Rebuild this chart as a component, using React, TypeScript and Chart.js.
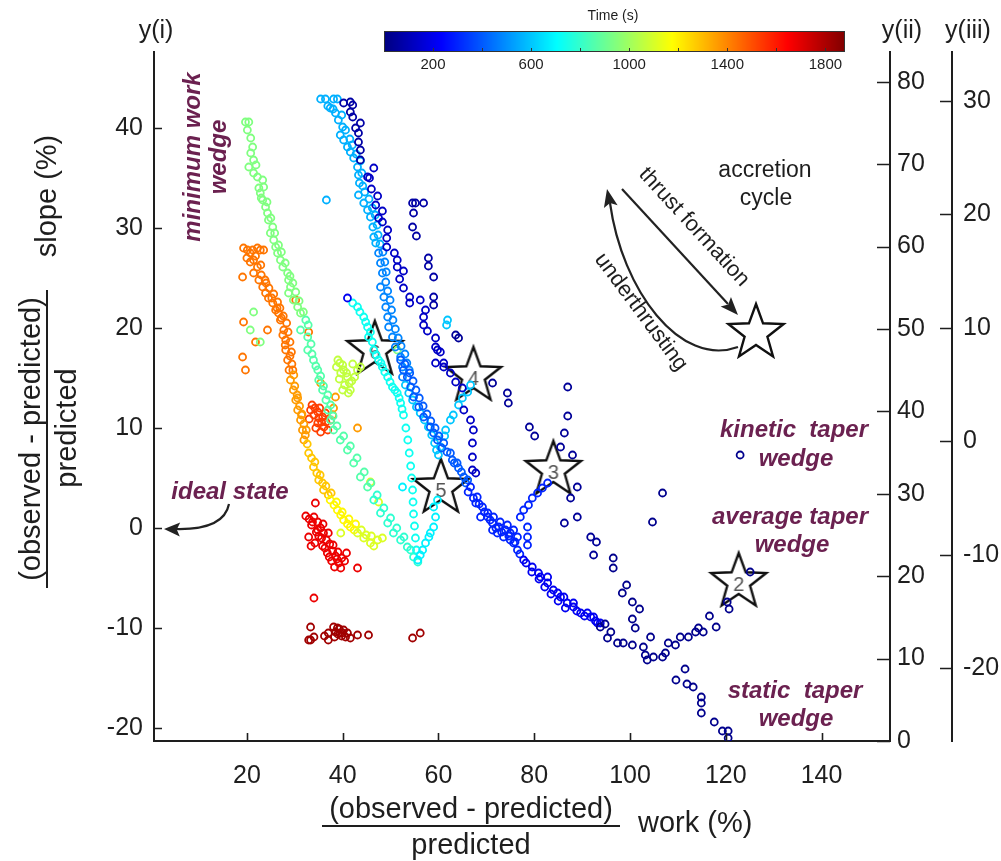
import React, { useEffect, useRef } from "react";
import { Chart, registerables } from "chart.js";
Chart.register(...registerables);

const FONT = "'Liberation Sans', Arial, Helvetica, sans-serif";
const PURPLE = "#6b2150";
const INK = "#1e1e1e";

const T_MIN = 0;
const T_MAX = 1880;

const xTickValues = [20, 40, 60, 80, 100, 120, 140];
const yTickValues = [-20, -10, 0, 10, 20, 30, 40];
const y2TickValues = [0, 10, 20, 30, 40, 50, 60, 70, 80];
const y3TickValues = [-20, -10, 0, 10, 20, 30];
const colorbarTicks = [200, 400, 600, 800, 1000, 1200, 1400, 1600, 1800];
const colorbarLabels = [200, 600, 1000, 1400, 1800];

const starX = [122.7, 84.0, 67.3, 60.5, 46.7];
const starY = [-5.2, 6.0, 15.4, 4.2, 18.0];
const starLabels = ["2", "3", "4", "5", "6"];

// ---- scatter groups: [work %, slope %], each group has one time (s) ----
const navyBottom = [
  [109.6, -15.2], [111.5, -14.1], [111.9, -15.6], [113.2, -15.9], [114.9, -16.9], [114.9, -17.5],
  [114.9, -18.5], [117.6, -19.4], [119.3, -20.3], [120.5, -20.3], [120.5, -21.0],
  [93.8, -9.9], [95.3, -11.0], [97.4, -11.5], [98.6, -11.5], [100.5, -11.7], [102.8, -11.9],
  [103.2, -12.7], [103.6, -13.2], [104.9, -12.9], [106.8, -12.9], [107.4, -12.5], [108.0, -11.5],
  [109.5, -11.7], [110.5, -10.9], [112.2, -10.9], [113.7, -10.4], [114.3, -10.0], [115.3, -10.4],
  [116.6, -8.8], [118.0, -9.9], [120.3, -7.4], [120.7, -8.1], [125.1, -4.4], [104.3, -10.9],
  [104.7, 0.6], [106.8, 3.5], [123.0, 7.3], [96.5, -3.0], [96.5, -4.0], [98.4, -6.5], [99.3, -5.7],
  [100.5, -7.4], [102.0, -8.1], [100.5, -9.1], [101.1, -10.0], [96.0, -10.4], [94.8, -9.6],
];
const navyRight = [
  [87.0, 14.1], [87.0, 11.2], [86.3, 9.5], [85.5, 8.1], [88.0, 7.3], [89.0, 4.1], [87.6, 3.0],
  [89.0, 1.1], [86.3, 0.5], [91.8, -0.9], [93.0, -1.4], [92.4, -2.7], [74.4, 13.5], [74.6, 12.5],
  [71.3, 14.5], [79.0, 10.1], [80.1, 9.2], [63.6, 19.3], [64.2, 19.0],
];
const navyTop = [
  [54.6, 32.5], [55.2, 32.5], [56.9, 32.5], [54.8, 31.5], [54.6, 30.1], [55.4, 29.2], [57.9, 27.0],
  [57.9, 26.2], [59.0, 25.1], [59.0, 23.1], [59.0, 22.3],
  [40.2, 42.5], [41.6, 42.6], [42.1, 42.3], [41.6, 41.6], [42.1, 41.1], [43.7, 40.5], [42.7, 40.0],
  [43.3, 39.5], [43.3, 38.6], [43.7, 37.8], [43.7, 36.8],
];
const blueRight = [
  [46.5, 36.0], [45.2, 35.1], [45.6, 35.0], [46.0, 33.9], [47.3, 33.2], [46.9, 32.3], [48.3, 31.7],
  [47.5, 31.0], [48.3, 30.6], [49.4, 29.8], [49.2, 29.0], [49.2, 28.1], [50.8, 27.5], [51.4, 26.8],
  [51.4, 26.1], [52.7, 25.7], [51.9, 24.9], [52.7, 24.0], [54.0, 23.1], [54.0, 22.5], [56.2, 22.8],
  [57.3, 21.8], [56.9, 21.1], [56.9, 20.3], [57.7, 19.7], [59.4, 19.0], [59.4, 18.1], [60.4, 17.6],
  [59.4, 16.5], [61.1, 16.1], [62.5, 15.5], [59.8, 17.8], [61.1, 16.5], [63.6, 14.6], [65.0, 14.0],
  [65.3, 11.8], [66.7, 10.8], [67.3, 9.8], [67.1, 8.5], [67.1, 7.1], [67.1, 5.8], [67.8, 5.5],
];
const diagLow = [
  [77.8, -3.2], [79.6, -3.9], [80.9, -4.5], [82.8, -5.5], [84.0, -6.2], [85.5, -6.9], [86.9, -7.5],
  [88.2, -7.9], [89.7, -8.5], [91.8, -8.9], [93.8, -9.5], [81.3, -4.9], [82.8, -4.9], [84.9, -6.5],
  [86.2, -6.9], [88.2, -7.5], [91.1, -8.5], [92.4, -8.9], [93.2, -9.5], [41.0, 23.0],
  [78.3, -3.5], [79.5, -4.4], [81.0, -5.1], [82.2, -5.9], [83.5, -6.6], [85.0, -7.3], [86.5, -8.0],
  [88.9, -8.3], [90.5, -8.8], [92.8, -9.3],
];
const diagMid = [
  [66.7, 4.1], [68.1, 3.1], [69.2, 2.1], [70.3, 1.1], [71.3, 0.5], [72.6, 0.1], [74.0, -0.2],
  [75.0, -0.5], [75.7, -1.5], [76.5, -2.2], [70.3, 1.5], [71.5, 1.1], [72.9, 0.6], [74.4, 0.3],
  [75.7, -0.2], [76.5, -0.9], [73.6, -0.9], [75.0, -1.2], [71.3, -0.2], [72.3, -0.5], [68.8, 1.1],
  [67.8, 2.5], [77.1, 1.1], [77.8, 1.8], [78.8, 2.3], [79.6, 3.0], [80.7, 3.5], [81.7, 4.0],
  [82.8, 4.5], [78.6, 0.1], [78.6, -0.9], [78.6, -1.7], [66.2, 3.6], [67.3, 3.0], [68.5, 2.4],
  [69.6, 1.6], [70.8, 0.8], [72.0, 0.0], [73.2, -0.4], [74.7, -0.8], [76.0, -1.4], [77.0, -2.6],
];
const bandBlue = [
  [52.1, 16.8], [52.7, 15.8], [53.5, 15.1], [54.2, 14.1], [54.8, 13.1], [55.9, 12.1], [56.9, 11.1],
  [58.3, 10.1], [59.0, 9.5], [59.8, 8.8], [61.1, 8.5], [62.5, 7.5], [63.9, 6.5], [65.3, 5.1],
  [66.1, 4.8], [63.3, 6.5], [53.0, 16.4], [54.0, 15.5], [54.7, 14.7], [55.3, 13.8], [56.0, 13.0],
  [56.8, 12.2], [57.6, 11.4], [58.4, 10.7], [59.3, 10.0], [60.1, 9.2], [60.7, 8.0], [61.8, 7.6],
  [62.9, 6.8], [64.2, 6.0], [64.8, 5.6], [65.7, 4.5],
];
const skyLower = [
  [47.5, 27.5], [47.9, 26.5], [48.3, 25.5], [47.9, 24.1], [48.6, 23.1], [49.0, 22.1], [49.4, 21.1],
  [49.6, 20.1], [50.4, 19.1], [51.0, 18.1], [52.1, 17.1], [52.5, 16.1], [52.5, 15.1],
  [48.4, 27.6], [48.8, 26.6], [49.1, 25.6], [49.0, 24.6], [49.4, 23.7], [49.9, 22.8], [50.2, 21.8],
  [50.5, 20.8], [51.0, 19.9], [51.6, 19.0], [52.2, 18.2], [53.0, 17.4], [53.4, 16.5], [53.9, 15.8],
];
const skyUpper = [
  [35.4, 42.9], [36.4, 42.9], [38.1, 42.9], [38.9, 42.9], [37.4, 42.0], [38.5, 41.5], [39.1, 40.8],
  [40.0, 40.1], [39.5, 39.3], [40.2, 38.8], [41.0, 38.1], [41.6, 37.6], [42.3, 37.0], [43.1, 36.1],
  [43.3, 35.3], [43.5, 34.5], [43.3, 33.3], [44.4, 32.5], [45.2, 31.8], [45.8, 31.1], [46.3, 30.1],
  [46.5, 29.1], [46.9, 28.5], [36.6, 32.8], [36.9, 42.2], [38.0, 41.9], [39.8, 41.3], [40.6, 39.8],
  [41.5, 38.9], [42.0, 38.3], [42.8, 37.4], [43.7, 36.7], [44.0, 35.5], [44.2, 34.2], [44.6, 33.6],
  [45.5, 32.9], [46.2, 32.0], [46.8, 31.3], [47.2, 30.3], [47.4, 29.3], [47.8, 28.4],
];
const skyBand = [
  [53.1, 14.3], [53.8, 13.5], [54.6, 12.8], [55.4, 12.1], [56.2, 11.5], [57.1, 10.8], [57.9, 10.1],
  [58.6, 9.3], [59.2, 8.5], [59.6, 7.8], [60.0, 7.3], [60.4, 8.1], [61.3, 9.2], [61.5, 9.8],
  [62.5, 10.8], [63.1, 11.3], [64.2, 12.3], [65.0, 13.0], [66.1, 13.6], [66.7, 14.3], [61.7, 20.3],
  [61.9, 20.8],
];
const cyanRise = [
  [55.7, -3.2], [56.2, -2.7], [56.7, -2.2], [57.3, -1.5], [58.0, -0.9], [58.3, -0.5], [59.0, 0.1],
  [59.4, 1.1], [59.0, 2.1], [59.8, 2.8], [52.5, 4.1],
];
const cyanStreak = [
  [42.1, 22.5], [43.1, 22.1], [44.4, 21.1], [45.2, 20.1], [45.4, 19.1], [46.5, 17.8], [47.5, 16.8],
  [48.3, 16.1], [49.4, 15.1], [50.4, 14.1], [51.4, 13.5], [52.1, 12.5], [52.7, 11.3], [53.2, 10.0],
  [53.6, 8.8], [53.9, 7.5], [54.2, 6.2], [54.4, 5.0], [54.6, 3.8], [54.7, 2.6], [54.8, 1.4],
  [55.0, 0.2], [55.2, -1.0], [55.4, -2.2], [43.6, 21.6], [44.8, 20.6], [45.8, 19.6], [46.2, 18.6],
  [47.0, 17.3], [48.0, 16.5], [48.8, 15.6], [49.9, 14.6], [50.9, 13.8], [51.8, 13.0], [52.4, 11.9],
];
const greenLow = [
  [46.5, 2.8], [47.9, 1.5], [49.4, 0.5], [50.6, -0.5], [52.1, -1.2], [53.5, -1.9], [54.8, -2.9],
  [55.7, -3.4], [47.2, 3.3], [48.6, 2.0], [50.0, 1.0], [51.3, 0.0], [52.8, -0.9], [54.2, -2.2],
];
const greenMid = [
  [32.3, 20.8], [31.2, 19.8], [32.7, 19.1], [32.7, 17.8], [33.9, 16.8], [34.8, 15.8], [35.0, 14.8],
  [35.8, 13.8], [36.5, 12.8], [36.9, 11.8], [37.5, 10.8], [38.1, 9.8], [39.5, 8.8], [41.0, 7.8],
  [42.3, 6.5], [43.7, 5.1], [45.2, 4.1], [32.8, 20.3], [33.4, 18.4], [33.6, 17.4], [34.4, 16.2],
  [35.4, 15.2], [36.0, 14.2], [36.9, 13.3], [37.5, 12.3], [38.0, 11.2], [38.8, 10.2], [40.2, 9.2],
  [41.6, 8.2], [43.0, 7.0], [44.5, 5.6], [45.9, 4.5],
];
const greenTop = [
  [19.7, 40.6], [20.4, 40.6], [20.1, 39.8], [20.8, 39.0], [21.2, 38.1], [20.8, 37.5], [21.4, 36.8],
  [20.4, 36.1], [21.4, 35.5], [22.2, 35.1], [23.3, 34.8], [23.5, 34.1], [22.8, 33.5], [23.3, 32.8],
  [23.9, 32.1], [24.3, 31.5], [24.5, 30.8], [25.4, 30.1], [24.9, 29.5], [25.6, 28.8], [26.0, 28.1],
  [26.4, 27.5], [27.0, 26.8], [27.5, 26.1], [28.5, 25.5], [28.7, 24.8], [29.1, 24.1], [28.7, 23.5],
  [29.7, 22.8], [30.6, 22.1], [31.2, 21.5], [20.7, 19.8], [22.8, 18.6], [21.4, 21.6], [51.4, 17.8],
  [21.9, 36.3], [22.5, 34.0], [23.0, 33.0], [24.2, 32.6], [25.0, 31.0], [25.8, 29.5], [26.6, 28.3],
  [27.2, 27.6], [28.0, 26.5], [29.0, 25.2], [29.6, 24.5], [30.2, 23.6], [30.9, 22.7], [31.8, 21.6],
];
const yellowGreenBlob = [
  [38.7, 16.1], [39.4, 16.5], [40.2, 15.8], [41.0, 15.1], [41.4, 14.5], [41.6, 13.8], [42.5, 15.1],
  [43.1, 15.8], [43.7, 16.1], [39.6, 15.5], [40.4, 14.3], [41.2, 13.5], [39.0, 16.8], [40.0, 16.3],
  [39.3, 14.9], [40.8, 15.5], [41.9, 14.7], [42.1, 16.4], [40.0, 13.8],
];
const yellowGreenTail = [
  [43.1, -0.5], [44.4, -1.0], [45.8, -1.5], [47.3, -1.2], [48.3, -1.0], [46.5, -1.8], [39.6, -0.5],
  [45.8, 4.6], [47.5, 2.6], [43.9, -0.2], [44.9, -0.7], [46.0, -0.8],
];
const yellowPart = [
  [37.4, 2.8], [38.9, 1.8], [40.2, 0.8], [41.6, 0.1], [38.2, 2.3], [39.6, 1.3], [41.0, 0.4],
  [42.4, -0.2], [39.9, 1.6], [41.3, 0.9], [42.7, 0.4], [38.7, 2.6],
];
const orangeLow = [
  [32.9, 7.5], [33.9, 6.1], [35.0, 4.8], [36.0, 3.8], [33.5, 7.0], [34.6, 5.5], [35.8, 4.5],
  [37.0, 3.3], [34.2, 6.6], [35.3, 5.3], [36.5, 4.2], [37.6, 3.5], [32.6, 8.4],
];
const orangeMid = [
  [29.1, 14.8], [29.7, 13.8], [30.2, 12.8], [30.6, 11.8], [31.2, 10.8], [31.6, 9.8], [31.9, 8.8],
  [29.8, 15.3], [30.5, 13.3], [31.4, 11.3], [32.2, 9.3], [35.4, 14.5], [38.5, 13.1], [38.1, 12.0],
  [37.9, 11.3], [43.1, 10.0], [30.0, 14.2], [30.6, 13.0], [31.0, 12.2], [31.5, 11.4], [31.9, 10.4],
  [32.4, 9.8],
];
const orangeTop = [
  [19.3, 28.0], [20.1, 27.8], [21.2, 27.8], [22.2, 28.0], [22.8, 27.8], [23.5, 27.8], [20.7, 27.5],
  [21.4, 26.8], [22.2, 26.1], [20.7, 26.6], [21.4, 25.5], [22.5, 24.8], [23.3, 24.1], [23.9, 23.5],
  [24.5, 23.0], [25.4, 22.5], [26.0, 21.8], [26.6, 21.5], [27.0, 20.8], [27.7, 19.8], [28.1, 18.8],
  [28.1, 17.8], [28.5, 16.8], [28.8, 15.8], [24.0, 24.5], [25.2, 23.0], [26.3, 22.0], [27.2, 21.0],
  [27.5, 19.3], [28.0, 18.3], [29.0, 17.2], [19.1, 25.1], [19.3, 20.6], [19.1, 17.1], [19.7, 15.8],
  [24.3, 19.8], [21.8, 18.6], [32.9, 19.6], [30.2, 22.8], [20.0, 27.0], [21.8, 27.2], [22.9, 26.3],
  [23.0, 25.3], [23.8, 24.8], [24.6, 24.0], [25.6, 23.4], [26.4, 22.6], [26.9, 22.0], [27.6, 21.2],
  [28.3, 20.5], [28.6, 19.6], [29.0, 18.6], [29.3, 17.6], [29.4, 16.4], [29.6, 15.8],
];
const redOrange = [
  [33.3, 11.8], [34.8, 11.6], [35.8, 11.1], [34.8, 10.5], [36.1, 10.1], [37.5, 10.8], [36.9, 9.8],
  [34.0, 11.3], [33.6, 12.3], [35.2, 12.0], [36.4, 11.5], [35.4, 9.6], [33.0, 10.9], [34.2, 12.0],
  [35.6, 10.6], [36.5, 10.6], [34.4, 10.0], [35.0, 11.0],
];
const redCluster = [
  [32.3, 1.2], [33.0, 0.9], [34.0, 1.1], [34.8, 0.6], [33.5, 0.3], [35.4, 0.0], [36.0, -0.5],
  [35.0, -0.8], [36.6, -1.2], [37.3, -1.6], [36.3, -2.0], [37.9, -2.3], [38.5, -2.8], [37.7, -3.3],
  [39.2, -3.5], [38.3, -3.9], [39.6, -4.0], [40.4, -3.3], [40.8, -2.5], [32.9, -0.9], [33.4, -1.8],
  [34.2, -1.5], [43.1, -4.0], [34.8, -0.2], [34.3, 2.5], [34.0, -7.0], [33.7, 0.6], [34.5, -0.4],
  [35.6, -1.0], [35.8, -1.8], [36.8, -2.5], [37.2, -2.9], [38.8, -3.1], [39.0, -2.4], [37.0, -0.5],
  [35.9, 0.4], [38.0, -1.7], [39.8, -3.0],
];
const darkRed = [
  [33.3, -9.9], [33.3, -11.2], [37.0, -10.5], [37.0, -11.2], [38.1, -9.9], [38.9, -10.0],
  [39.5, -10.5], [40.6, -10.9], [41.6, -11.0], [43.1, -10.7], [45.4, -10.7], [34.0, -10.9],
  [54.6, -11.0], [56.2, -10.5], [39.0, -10.6], [39.8, -10.8], [40.2, -10.2], [38.5, -10.4],
  [32.9, -11.2], [39.3, -10.1], [40.0, -10.5], [38.3, -10.9], [41.0, -10.5], [36.2, -10.8],
];

const groupTimes = [25, 45, 70, 130, 210, 300, 400, 480, 560, 600, 680, 730, 790, 860, 940, 1060, 1110, 1190, 1280, 1360, 1430, 1530, 1680, 1820];
const groupPoints = [
  navyBottom, navyRight, navyTop, blueRight, diagLow, diagMid, bandBlue, skyLower, skyUpper,
  skyBand, cyanRise, cyanStreak, greenLow, greenMid, greenTop, yellowGreenBlob, yellowGreenTail,
  yellowPart, orangeLow, orangeMid, orangeTop, redOrange, redCluster, darkRed,
];

function jet(t: number) {
  const v = Math.min(1, Math.max(0, (t - T_MIN) / (T_MAX - T_MIN)));
  const c = (a: number) => Math.round(255 * Math.min(1, Math.max(0, a)));
  return `rgb(${c(1.5 - Math.abs(4 * v - 3))},${c(1.5 - Math.abs(4 * v - 2))},${c(1.5 - Math.abs(4 * v - 1))})`;
}

function starPath(ctx: CanvasRenderingContext2D, cx: number, cy: number, R: number, r: number) {
  ctx.beginPath();
  for (let i = 0; i < 10; i++) {
    const rad = i % 2 === 0 ? R : r;
    const a = -Math.PI / 2 + (i * Math.PI) / 5;
    const px = cx + rad * Math.cos(a);
    const py = cy + rad * Math.sin(a);
    if (i === 0) ctx.moveTo(px, py);
    else ctx.lineTo(px, py);
  }
  ctx.closePath();
}

function makeStar(label: string) {
  const cv = document.createElement("canvas");
  cv.width = 66;
  cv.height = 66;
  const c = cv.getContext("2d")!;
  starPath(c, 33, 35, 29, 12);
  c.fillStyle = "#ffffff";
  c.fill();
  c.lineWidth = 2.4;
  c.strokeStyle = "#111";
  c.lineJoin = "miter";
  c.stroke();
  c.fillStyle = "#555";
  c.font = `20px ${FONT}`;
  c.textAlign = "center";
  c.textBaseline = "middle";
  c.fillText(label, 33, 38);
  return cv;
}

function arrowHead(ctx: CanvasRenderingContext2D, x: number, y: number, angle: number, len: number, half: number) {
  ctx.save();
  ctx.translate(x, y);
  ctx.rotate(angle);
  ctx.beginPath();
  ctx.moveTo(0, 0);
  ctx.lineTo(-len, -half);
  ctx.lineTo(-len * 0.8, 0);
  ctx.lineTo(-len, half);
  ctx.closePath();
  ctx.fill();
  ctx.restore();
}

function rotText(ctx: CanvasRenderingContext2D, text: string, x: number, y: number, angle: number) {
  ctx.save();
  ctx.translate(x, y);
  ctx.rotate(angle);
  ctx.fillText(text, 0, 0);
  ctx.restore();
}

const decorPlugin = {
  id: "decor",
  afterDraw(chart: any) {
    const ctx: CanvasRenderingContext2D = chart.ctx;
    const { x, y, y2, y3 } = chart.scales;
    ctx.save();

    // inward tick marks
    ctx.strokeStyle = INK;
    ctx.lineWidth = 1.6;
    ctx.beginPath();
    xTickValues.forEach((v) => {
      const px = Math.round(x.getPixelForValue(v)) + 0.5;
      ctx.moveTo(px, x.top);
      ctx.lineTo(px, x.top - 8);
    });
    yTickValues.forEach((v) => {
      const py = Math.round(y.getPixelForValue(v)) + 0.5;
      ctx.moveTo(y.right, py);
      ctx.lineTo(y.right + 8, py);
    });
    y2TickValues.forEach((v) => {
      const py = Math.round(y2.getPixelForValue(v)) + 0.5;
      ctx.moveTo(y2.left, py);
      ctx.lineTo(y2.left - 13, py);
    });
    y3TickValues.forEach((v) => {
      const py = Math.round(y3.getPixelForValue(v)) + 0.5;
      ctx.moveTo(y3.left, py);
      ctx.lineTo(y3.left - 12, py);
    });
    ctx.stroke();

    // axis headers
    ctx.fillStyle = INK;
    ctx.font = `25px ${FONT}`;
    ctx.textAlign = "center";
    ctx.textBaseline = "middle";
    ctx.fillText("y(i)", y.right + 2, 31);
    ctx.fillText("y(ii)", y2.left + 12, 31);
    ctx.fillText("y(iii)", y3.left + 16, 31);

    // x axis title
    ctx.font = `29px ${FONT}`;
    ctx.textBaseline = "alphabetic";
    ctx.fillText("(observed - predicted)", 471, 818);
    ctx.fillText("predicted", 471, 854);
    ctx.fillRect(322, 825, 298, 2);
    ctx.textAlign = "left";
    ctx.fillText("work (%)", 638, 832);

    // y axis title (rotated)
    ctx.textAlign = "center";
    ctx.fillStyle = INK;
    rotText(ctx, "(observed - predicted)", 40, 439, -Math.PI / 2);
    rotText(ctx, "predicted", 76, 428, -Math.PI / 2);
    ctx.fillRect(46, 290, 2, 298);
    rotText(ctx, "slope (%)", 56, 196, -Math.PI / 2);

    // colorbar
    const cbL = 384, cbR = 845, cbT = 31, cbB = 52;
    const w = cbR - cbL;
    for (let i = 0; i < w; i++) {
      const t = T_MIN + ((i + 0.5) / w) * (T_MAX - T_MIN);
      ctx.fillStyle = jet(t);
      ctx.fillRect(cbL + i, cbT, 1, cbB - cbT);
    }
    ctx.strokeStyle = "#333";
    ctx.lineWidth = 1;
    ctx.strokeRect(cbL + 0.5, cbT + 0.5, w - 1, cbB - cbT - 1);
    ctx.beginPath();
    colorbarTicks.forEach((t) => {
      const px = Math.round(cbL + ((t - T_MIN) / (T_MAX - T_MIN)) * w) + 0.5;
      ctx.moveTo(px, cbB);
      ctx.lineTo(px, cbB - 4);
    });
    ctx.stroke();
    ctx.fillStyle = INK;
    ctx.font = `15px ${FONT}`;
    ctx.textAlign = "center";
    ctx.textBaseline = "middle";
    colorbarLabels.forEach((t) => {
      const px = cbL + ((t - T_MIN) / (T_MAX - T_MIN)) * w;
      ctx.fillText(String(t), px, 65);
    });
    ctx.font = `14px ${FONT}`;
    ctx.fillText("Time (s)", 613, 16);

    // purple annotations
    ctx.fillStyle = PURPLE;
    ctx.font = `italic bold 24px ${FONT}`;
    ctx.textAlign = "center";
    ctx.textBaseline = "middle";
    rotText(ctx, "minimum work", 193, 157, -Math.PI / 2);
    rotText(ctx, "wedge", 219, 157, -Math.PI / 2);
    ctx.fillText("ideal state", 230, 492);
    ctx.fillText("kinetic  taper", 794, 430);
    ctx.fillText("wedge", 796, 459);
    ctx.fillText("average taper", 790, 517);
    ctx.fillText("wedge", 792, 545);
    ctx.fillText("static  taper", 795, 691);
    ctx.fillText("wedge", 796, 719);

    // ideal state arrow
    ctx.strokeStyle = "#222";
    ctx.fillStyle = "#222";
    ctx.lineWidth = 2.2;
    ctx.beginPath();
    ctx.moveTo(229, 504);
    ctx.quadraticCurveTo(224, 530, 176, 529);
    ctx.stroke();
    arrowHead(ctx, 164, 529, Math.PI + 0.03, 16, 7);

    // accretion cycle diagram
    ctx.fillStyle = INK;
    ctx.font = `23px ${FONT}`;
    ctx.fillText("accretion", 765, 171);
    ctx.fillText("cycle", 766, 199);
    ctx.font = `22px ${FONT}`;
    rotText(ctx, "thrust formation", 694, 227, 0.83);
    rotText(ctx, "underthrusting", 641, 312, 0.93);

    ctx.strokeStyle = "#222";
    ctx.fillStyle = "#222";
    ctx.lineWidth = 2.2;
    ctx.beginPath();
    ctx.moveTo(622, 189);
    ctx.lineTo(728, 304);
    ctx.stroke();
    arrowHead(ctx, 738, 315, Math.atan2(126, 116), 18, 7);

    ctx.beginPath();
    ctx.moveTo(738, 347);
    ctx.bezierCurveTo(680, 368, 622, 290, 610, 203);
    ctx.stroke();
    arrowHead(ctx, 607, 189, Math.atan2(-14, -3), 18, 7);

    starPath(ctx, 756, 333, 29, 12);
    ctx.fillStyle = "#fff";
    ctx.fill();
    ctx.lineWidth = 2.4;
    ctx.strokeStyle = "#111";
    ctx.stroke();

    ctx.restore();
  },
};

export default function App() {
  const ref = useRef<HTMLCanvasElement | null>(null);

  useEffect(() => {
    document.body.style.margin = "0";
    const canvas = ref.current;
    if (!canvas) return;

    const datasets: any[] = groupPoints.map((pts, i) => ({
      data: pts.map((p) => ({ x: p[0], y: p[1] })),
      borderColor: jet(groupTimes[i]),
      backgroundColor: "rgba(0,0,0,0)",
      pointRadius: 3.5,
      pointBorderWidth: 1.8,
      pointStyle: "circle",
      xAxisID: "x",
      yAxisID: "y",
    }));
    datasets.push({
      data: starX.map((v, i) => ({ x: v, y: starY[i] })),
      pointStyle: starLabels.map((l) => makeStar(l)),
      pointRadius: 28,
      xAxisID: "x",
      yAxisID: "y",
    });

    const tickFont = { family: FONT, size: 25 };
    const chart = new Chart(canvas, {
      type: "scatter",
      data: { datasets },
      plugins: [decorPlugin],
      options: {
        responsive: false,
        animation: false,
        layout: { padding: { left: 0, right: 0, top: 52, bottom: 0 } },
        plugins: { legend: { display: false }, tooltip: { enabled: false } },
        scales: {
          x: {
            type: "linear",
            position: "bottom",
            min: 0.6,
            max: 154.3,
            afterBuildTicks: (s: any) => {
              s.ticks = xTickValues.map((v) => ({ value: v }));
            },
            afterFit: (s: any) => {
              s.height = 120;
            },
            grid: { display: false, drawTicks: false },
            border: { display: true, color: INK, width: 2 },
            ticks: { font: tickFont, color: INK, padding: 20, maxRotation: 0, autoSkip: false },
          },
          y: {
            type: "linear",
            position: "left",
            min: -21.3,
            max: 47.6,
            afterBuildTicks: (s: any) => {
              s.ticks = yTickValues.map((v) => ({ value: v }));
            },
            afterFit: (s: any) => {
              s.width = 154;
            },
            grid: { display: false, drawTicks: false },
            border: { display: true, color: INK, width: 2 },
            ticks: { font: tickFont, color: INK, padding: 11, autoSkip: false },
          },
          y2: {
            type: "linear",
            position: "right",
            min: 0,
            max: 83.6,
            afterBuildTicks: (s: any) => {
              s.ticks = y2TickValues.map((v) => ({ value: v }));
            },
            afterFit: (s: any) => {
              s.width = 62;
            },
            grid: { display: false, drawTicks: false, drawOnChartArea: false },
            border: { display: true, color: INK, width: 2 },
            ticks: { font: tickFont, color: INK, padding: 7, autoSkip: false },
          },
          y3: {
            type: "linear",
            position: "right",
            min: -26.4,
            max: 34.3,
            afterBuildTicks: (s: any) => {
              s.ticks = y3TickValues.map((v) => ({ value: v }));
            },
            afterFit: (s: any) => {
              s.width = 49;
            },
            grid: { display: false, drawTicks: false, drawOnChartArea: false },
            border: { display: true, color: INK, width: 2 },
            ticks: { font: tickFont, color: INK, padding: 11, autoSkip: false },
          },
        },
      },
    } as any);

    return () => chart.destroy();
  }, []);

  return (
    <div style={{ position: "absolute", left: 0, top: 0, width: 1001, height: 861, background: "#fff" }}>
      <canvas ref={ref} width={1001} height={861} style={{ width: 1001, height: 861, display: "block" }} />
    </div>
  );
}
